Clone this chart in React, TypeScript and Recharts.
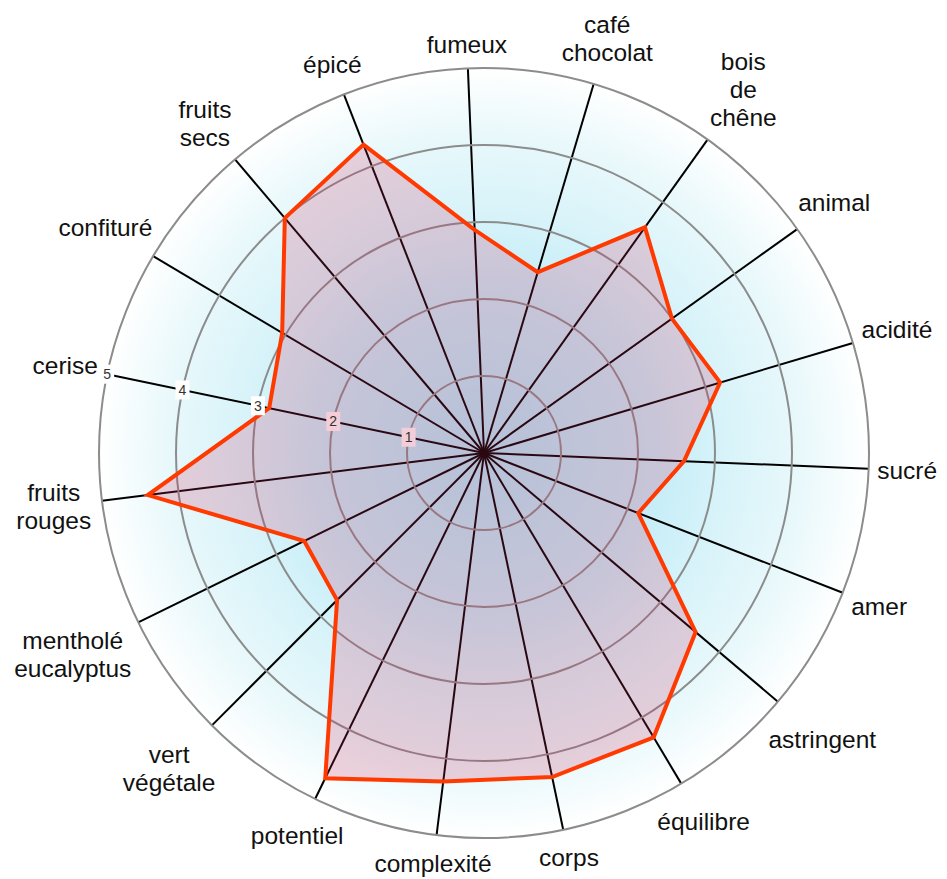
import { RadarChart, PolarGrid, PolarAngleAxis, PolarRadiusAxis, Radar } from "recharts"

// tasting profile, clockwise from the top
const categories = [
  "fumeux",
  "café\nchocolat",
  "bois\nde\nchêne",
  "animal",
  "acidité",
  "sucré",
  "amer",
  "astringent",
  "équilibre",
  "corps",
  "complexité",
  "potentiel",
  "vert\nvégétale",
  "mentholé\neucalyptus",
  "fruits\nrouges",
  "cerise",
  "confituré",
  "fruits\nsecs",
  "épicé",
]
const scores = [2.9, 2.45, 3.6, 3.0, 3.2, 2.6, 2.15, 3.6, 4.3, 4.3, 4.3, 4.7, 2.7, 2.6, 4.4, 2.85, 3.05, 4.0, 4.3]
const radiusTicks = [0, 1, 2, 3, 4, 5]
const radiusAxisCategory = "cerise"

const data = categories.map((category, i) => ({ category, score: scores[i] }))

const W = 947
const H = 879
const CX = 484
const CY = 453
const R = 385
const START = 92.4
const FONT = "'Liberation Sans', Arial, sans-serif"
const FONT_SIZE = 24.5
const LINE_H = 28

const axisIndex = categories.indexOf(radiusAxisCategory)
const axisAngle = START - (axisIndex * 360) / categories.length

let ctx: CanvasRenderingContext2D | null = null
function measure(text: string) {
  if (!ctx) {
    ctx = document.createElement("canvas").getContext("2d")
    if (ctx) ctx.font = `${FONT_SIZE}px ${FONT}`
  }
  return ctx ? ctx.measureText(text).width : text.length * FONT_SIZE * 0.5
}

function AngleTick(props: any) {
  const { payload } = props
  const lines = String(payload.value).split("\n")
  const w = Math.max(...lines.map(measure))
  const h = lines.length * LINE_H
  const rad = (-payload.coordinate * Math.PI) / 180
  const ux = Math.cos(rad)
  const uy = Math.sin(rad)
  const dist = R + 8 + (Math.abs(ux) * w) / 2 + (Math.abs(uy) * h) / 2
  const x = CX + dist * ux
  const y = CY + dist * uy
  const top = y - ((lines.length - 1) * LINE_H) / 2
  return (
    <text x={x} y={top} textAnchor="middle" fontFamily={FONT} fontSize={FONT_SIZE} fill="#111">
      {lines.map((line, i) => (
        <tspan key={i} x={x} y={top + i * LINE_H} dominantBaseline="central">
          {line}
        </tspan>
      ))}
    </text>
  )
}

function RadiusTick(props: any) {
  const { x, y, payload } = props
  if (payload.value === 0) return null
  // boxes that sit under the filled area pick up its tint
  const inside = payload.value < scores[axisIndex]
  return (
    <g>
      <rect x={x - 7} y={y - 9.5} width={14} height={19} fill={inside ? "#f3cdd8" : "#fff"} />
      <text x={x} y={y} textAnchor="middle" dominantBaseline="central" fontFamily={FONT} fontSize={14} fill="#333">
        {payload.value}
      </text>
    </g>
  )
}

export default function App() {
  return (
    <div style={{ position: "absolute", left: 0, top: 0, width: W, height: H }}>
      <svg width={W} height={H} style={{ position: "absolute", left: 0, top: 0 }}>
        <defs>
          <radialGradient id="bg" cx={CX} cy={CY} r={R} gradientUnits="userSpaceOnUse">
            <stop offset="0%" stopColor="#aee8f8" />
            <stop offset="45%" stopColor="#c6edf8" />
            <stop offset="62%" stopColor="#d7f3f9" />
            <stop offset="82%" stopColor="#e8f8fb" />
            <stop offset="100%" stopColor="#ffffff" />
          </radialGradient>
        </defs>
        <circle cx={CX} cy={CY} r={R} fill="url(#bg)" />
      </svg>
      <div style={{ position: "absolute", left: 0, top: 0 }}>
        <RadarChart
          width={W}
          height={H}
          data={data}
          cx={CX}
          cy={CY}
          outerRadius={R}
          startAngle={START}
          endAngle={START - 360}
          margin={{ top: 0, right: 0, bottom: 0, left: 0 }}
        >
          <PolarGrid gridType="circle" polarRadius={[]} stroke="#000" strokeWidth={2} strokeOpacity={1} />
          <PolarGrid gridType="circle" radialLines={false} stroke="#8c8c8c" strokeWidth={2} strokeOpacity={1} />
          <PolarRadiusAxis
            angle={axisAngle}
            domain={[0, 5]}
            ticks={radiusTicks as any}
            tickCount={6}
            axisLine={false}
            tickLine={false}
            tick={<RadiusTick />}
          />
          <PolarAngleAxis dataKey="category" tick={<AngleTick />} axisLine={false} tickLine={false} />
          <Radar
            dataKey="score"
            stroke="#ff3a00"
            strokeWidth={4}
            fill="#d42a5a"
            fillOpacity={0.2}
            dot={false}
            isAnimationActive={false}
          />
        </RadarChart>
      </div>
    </div>
  )
}
